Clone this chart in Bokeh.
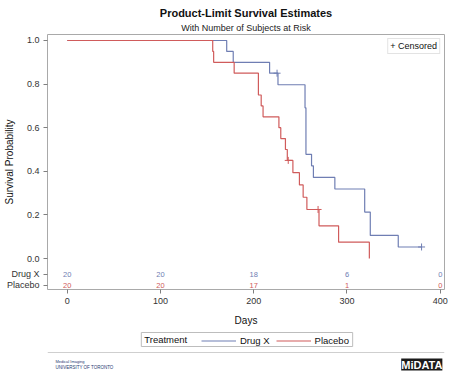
from bokeh.plotting import figure
from bokeh.layouts import column
from bokeh.models import (Range1d, FixedTicker, Legend, LegendItem, Label, Title,
                          ColumnDataSource, PrintfTickFormatter, BoxAnnotation, Span)
from bokeh.core.properties import value
from bokeh.embed import file_html
from bokeh.resources import INLINE

FONT = "Liberation Sans"
BLUE = "#6F7EB3"
RED = "#D05B5B"

# ---- data ----
drug_days = [0, 171, 178, 217, 226, 255, 256, 262, 264, 287, 319, 325, 355, 380]
drug_surv = [1.0, 0.95, 0.90, 0.85, 0.797, 0.691, 0.478, 0.425, 0.372, 0.319, 0.213, 0.106, 0.053, 0.053]
drug_cens_days = [225, 380]
drug_cens_surv = [0.85, 0.053]

placebo_days = [0, 156, 157, 179, 205, 208, 210, 227, 229, 234, 236, 242, 249, 253, 257, 270, 291, 324]
placebo_surv = [1.0, 0.95, 0.90, 0.85, 0.75, 0.70, 0.65, 0.60, 0.55, 0.50, 0.45, 0.394, 0.3375, 0.281, 0.225, 0.15, 0.075, 0.0]
placebo_cens_days = [237, 269]
placebo_cens_surv = [0.45, 0.225]

risk_days = [0, 100, 200, 300, 400]
drug_risk = [20, 20, 18, 6, 0]
placebo_risk = [20, 20, 17, 1, 0]
y_ticks = [0.0, 0.2, 0.4, 0.6, 0.8, 1.0]

groups = ["Drug X", "Placebo"]
colors = [BLUE, RED]

W = 448
BL, BR = 42, 4
X0, X1 = -21.2, 404.6

# ================= main chart =================
p = figure(width=W, height=328, output_backend="svg", toolbar_location=None,
           x_range=Range1d(X0, X1), y_range=Range1d(-0.142, 1.0275),
           min_border_left=BL, min_border_right=BR, min_border_top=34,
           min_border_bottom=39)
try:
    p.title = None
except Exception:
    p.title.text = ""

p.background_fill_color = "white"
p.border_fill_color = "white"
p.outline_line_color = "#A9A9A9"
p.xgrid.visible = False
p.ygrid.visible = False

sub = Title(text="With Number of Subjects at Risk", align="center",
            text_font=FONT, text_font_size="9px", text_font_style="normal",
            text_color="#222222", standoff=4)
main = Title(text="Product-Limit Survival Estimates", align="center",
             text_font=FONT, text_font_size="11px", text_font_style="bold",
             text_color="#111111", standoff=0)
p.add_layout(sub, "above")
p.add_layout(main, "above")

# at-risk rows (inside the frame, below 0)
row_y = [-0.073, -0.122]

# axes
p.xaxis.ticker = FixedTicker(ticks=risk_days)
p.yaxis.ticker = FixedTicker(ticks=row_y + y_ticks)
p.yaxis.formatter = PrintfTickFormatter(format="%.1f")
p.yaxis.major_label_overrides = {yy: name for yy, name in zip(row_y, groups)}
p.xaxis.axis_label = "Days"
p.yaxis.axis_label = "Survival Probability"
for ax in (p.xaxis, p.yaxis):
    ax.axis_line_color = None
    ax.major_tick_line_color = "#7F7F7F"
    ax.major_tick_out = 4
    ax.major_tick_in = 0
    ax.minor_tick_line_color = None
    ax.major_label_text_font = FONT
    ax.major_label_text_font_size = "9px"
    ax.major_label_text_color = "#333333"
    ax.axis_label_text_font = FONT
    ax.axis_label_text_font_size = "10px"
    ax.axis_label_text_font_style = "normal"
    ax.axis_label_text_color = "#111111"
p.xaxis.major_label_standoff = 4
p.xaxis.axis_label_standoff = 8
p.yaxis.major_label_standoff = 4
# the y title shares its column with the wide row names (which sit far below it)
try:
    p.yaxis.axis_label_standoff = -11
except Exception:
    p.yaxis.axis_label_standoff = 0

# curves
drug_src = ColumnDataSource(dict(days=drug_days, surv=drug_surv))
plac_src = ColumnDataSource(dict(days=placebo_days, surv=placebo_surv))
p.step(x="days", y="surv", source=drug_src, mode="after",
       line_color=BLUE, line_width=1.2)
p.step(x="days", y="surv", source=plac_src, mode="after",
       line_color=RED, line_width=1.2)
p.scatter(x=drug_cens_days, y=drug_cens_surv, marker="cross", size=7,
          line_color=BLUE, line_width=1)
p.scatter(x=placebo_cens_days, y=placebo_cens_surv, marker="cross", size=7,
          line_color=RED, line_width=1)

# at-risk counts
for vals, yy, col in ((drug_risk, row_y[0], BLUE), (placebo_risk, row_y[1], RED)):
    p.text(x=risk_days, y=[yy] * len(risk_days), text=[str(v) for v in vals],
           text_align="center", text_baseline="middle", text_font=value(FONT),
           text_font_size="7.5px", text_color=col)

# censored inset legend
cens_key = p.scatter(x=[], y=[], marker="cross", size=7, line_color="black", line_width=1)
leg1 = Legend(items=[LegendItem(label="+ Censored", renderers=[cens_key])],
              location="top_right", margin=4, padding=2, spacing=0,
              glyph_width=0, glyph_height=8, label_standoff=0, label_height=8,
              label_text_font=FONT, label_text_font_size="9px",
              label_text_color="#111111", border_line_color="#C8C8C8",
              background_fill_color="white")
p.add_layout(leg1, "center")

# ================= footer: treatment legend and logos =================
FH = 44
f = figure(width=W, height=FH, output_backend="svg", toolbar_location=None,
           x_range=Range1d(BL, W - BR), y_range=Range1d(0, FH),
           min_border_left=BL, min_border_right=BR, min_border_top=0,
           min_border_bottom=0, x_axis_type=None, y_axis_type=None)
try:
    f.title = None
except Exception:
    f.title.text = ""
f.outline_line_color = None
f.xgrid.visible = False
f.ygrid.visible = False
f.background_fill_color = "white"
f.border_fill_color = "white"
f.extra_y_ranges = {"hidden": Range1d(10, 20)}

key_drug = f.line(x="days", y="surv", source=drug_src, y_range_name="hidden",
                  line_color=BLUE, line_width=1.2)
key_plac = f.line(x="days", y="surv", source=plac_src, y_range_name="hidden",
                  line_color=RED, line_width=1.2)

f.add_layout(BoxAnnotation(left=137, right=351, bottom=FH - 18, top=FH - 4,
                           fill_color="white", fill_alpha=0.0,
                           line_color="#BDBDBD", line_width=1, line_alpha=1.0))
f.add_layout(Label(x=140, y=FH - 11, text="Treatment", text_font=FONT,
                   text_font_size="9.5px", text_color="#111111",
                   text_baseline="middle"))
leg2 = Legend(items=[LegendItem(label=groups[0], renderers=[key_drug]),
                     LegendItem(label=groups[1], renderers=[key_plac])],
              orientation="horizontal", location=(154, 26),
              margin=0, padding=2, spacing=6, glyph_width=35, glyph_height=9,
              label_standoff=4, label_height=9,
              label_text_font=FONT, label_text_font_size="9.5px",
              label_text_color="#111111",
              border_line_color=None, background_fill_alpha=0)
f.add_layout(leg2, "center")

f.add_layout(Span(location=FH - 24, dimension="width", line_color="#CFCFCF",
                  line_width=1))

f.add_layout(Label(x=50, y=FH - 33, text="Medical Imaging", text_font=FONT,
                   text_font_size="4px", text_color="#1F3A73", text_baseline="middle"))
f.add_layout(Label(x=50, y=FH - 39, text="UNIVERSITY OF TORONTO", text_font=FONT,
                   text_font_size="4.5px", text_color="#1F3A73", text_baseline="middle"))
f.add_layout(Label(x=421, y=FH - 36, text="MiDATA", text_font=FONT,
                   text_font_size="11px", text_font_style="bold", text_color="white",
                   text_align="center", text_baseline="middle",
                   background_fill_color="#1A1A1A"))

layout = column(p, f, spacing=0)
open("out.html", "w").write(file_html(layout, INLINE))
